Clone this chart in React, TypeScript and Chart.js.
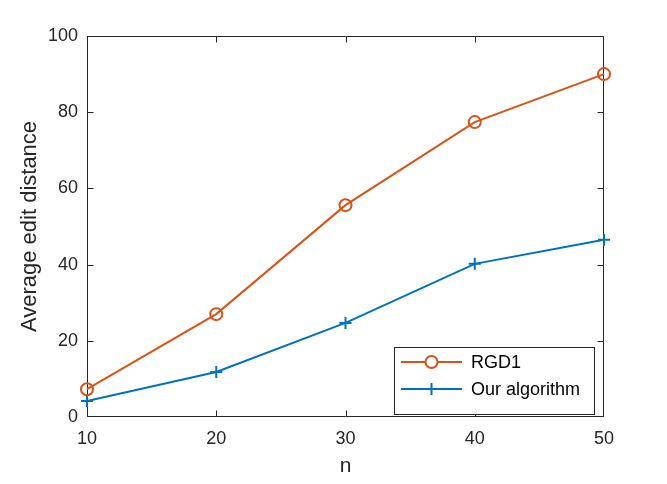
import React, { useEffect, useRef } from "react";
import { Chart, registerables } from "chart.js";

Chart.register(...registerables);

const nValues = [10, 20, 30, 40, 50];
const rgd1 = [7.3, 27.0, 55.6, 77.4, 90.0];
const ourAlgorithm = [4.2, 11.8, 24.7, 40.2, 46.5];
const seriesNames = ["RGD1", "Our algorithm"];
const xTicks = [10, 20, 30, 40, 50];
const yTicks = [0, 20, 40, 60, 80, 100];

const ORANGE = "#D95319";
const BLUE = "#0072BD";
const AXIS = "#262626";
const FONT = "'Liberation Sans', Arial, Helvetica, sans-serif";

// Box around the plot area with inward ticks on all four sides
const boxPlugin = {
  id: "matlabBox",
  beforeDatasetsDraw(chart: any) {
    const { ctx, chartArea: a, scales } = chart;
    const len = 6;
    const L = Math.round(a.left) + 0.5;
    const R = Math.round(a.right) - 0.5;
    const T = Math.round(a.top) + 0.5;
    const B = Math.round(a.bottom) - 0.5;
    ctx.save();
    ctx.strokeStyle = AXIS;
    ctx.lineWidth = 1;
    ctx.beginPath();
    ctx.rect(L, T, R - L, B - T);
    for (const v of xTicks) {
      const x = Math.min(R, Math.max(L, Math.round(scales.x.getPixelForValue(v)) + 0.5));
      ctx.moveTo(x, B);
      ctx.lineTo(x, B - len);
      ctx.moveTo(x, T);
      ctx.lineTo(x, T + len);
    }
    for (const v of yTicks) {
      const y = Math.min(B, Math.max(T, Math.round(scales.y.getPixelForValue(v)) + 0.5));
      ctx.moveTo(L, y);
      ctx.lineTo(L + len, y);
      ctx.moveTo(R, y);
      ctx.lineTo(R - len, y);
    }
    ctx.stroke();
    ctx.restore();
  },
  afterDraw(chart: any) {
    // Legend box in the lower right corner of the plot
    const { ctx, chartArea: a } = chart;
    const right = a.right - 9;
    const bottom = a.bottom - 2;
    const left = 394;
    const top = 347;
    ctx.save();
    ctx.fillStyle = "#ffffff";
    ctx.fillRect(left, top, right - left, bottom - top);
    ctx.strokeStyle = AXIS;
    ctx.lineWidth = 1;
    ctx.strokeRect(left + 0.5, top + 0.5, right - left - 1, bottom - top - 1);
    const rows = [
      { name: seriesNames[0], color: ORANGE, marker: "circle", y: top + 15 },
      { name: seriesNames[1], color: BLUE, marker: "cross", y: top + 42 },
    ];
    for (const r of rows) {
      const x0 = left + 7;
      const x1 = left + 68;
      const xm = (x0 + x1) / 2;
      ctx.strokeStyle = r.color;
      ctx.lineWidth = 2;
      ctx.beginPath();
      ctx.moveTo(x0, r.y);
      ctx.lineTo(x1, r.y);
      ctx.stroke();
      ctx.beginPath();
      if (r.marker === "circle") {
        ctx.fillStyle = "#ffffff";
        ctx.arc(xm, r.y, 6, 0, Math.PI * 2);
        ctx.fill();
      } else {
        ctx.moveTo(xm, r.y - 6);
        ctx.lineTo(xm, r.y + 6);
        ctx.moveTo(xm - 6, r.y);
        ctx.lineTo(xm + 6, r.y);
      }
      ctx.stroke();
      ctx.fillStyle = "#000000";
      ctx.font = `18px ${FONT}`;
      ctx.textBaseline = "middle";
      ctx.textAlign = "left";
      ctx.fillText(r.name, left + 77, r.y + 1);
    }
    ctx.restore();
  },
};

export default function App() {
  const ref = useRef<HTMLCanvasElement | null>(null);

  useEffect(() => {
    if (!ref.current) return;
    const chart = new Chart(ref.current, {
      type: "line",
      data: {
        datasets: [
          {
            label: seriesNames[0],
            data: nValues.map((n, i) => ({ x: n, y: rgd1[i] })),
            borderColor: ORANGE,
            backgroundColor: "rgba(0,0,0,0)",
            borderWidth: 2,
            pointStyle: "circle",
            pointRadius: 6,
            pointBorderWidth: 2,
            pointBorderColor: ORANGE,
            pointBackgroundColor: "rgba(0,0,0,0)",
            tension: 0,
            clip: false,
          },
          {
            label: seriesNames[1],
            data: nValues.map((n, i) => ({ x: n, y: ourAlgorithm[i] })),
            borderColor: BLUE,
            backgroundColor: "rgba(0,0,0,0)",
            borderWidth: 2,
            pointStyle: "cross",
            pointRadius: 6,
            pointBorderWidth: 2,
            pointBorderColor: BLUE,
            tension: 0,
            clip: false,
          },
        ],
      },
      options: {
        animation: false,
        responsive: false,
        maintainAspectRatio: false,
        layout: { padding: { top: 36, right: 63, left: 0, bottom: 0 } },
        plugins: {
          legend: { display: false },
          tooltip: { enabled: false },
        },
        scales: {
          x: {
            type: "linear",
            min: 10,
            max: 50,
            afterBuildTicks: (s: any) => {
              s.ticks = xTicks.map((v) => ({ value: v }));
            },
            afterFit: (s: any) => {
              s.height = 67;
            },
            grid: { display: false, drawTicks: false },
            border: { display: false },
            ticks: {
              color: AXIS,
              font: { family: FONT, size: 18 },
              padding: 11,
              maxRotation: 0,
            },
            title: {
              display: true,
              text: "n",
              color: AXIS,
              font: { family: FONT, size: 21 },
              padding: { top: 0, bottom: 5 },
            },
          },
          y: {
            type: "linear",
            min: 0,
            max: 100,
            afterBuildTicks: (s: any) => {
              s.ticks = yTicks.map((v) => ({ value: v }));
            },
            afterFit: (s: any) => {
              s.width = 87;
            },
            grid: { display: false, drawTicks: false },
            border: { display: false },
            ticks: {
              color: AXIS,
              font: { family: FONT, size: 18 },
              padding: 9,
            },
            title: {
              display: true,
              text: "Average edit distance",
              color: AXIS,
              font: { family: FONT, size: 22 },
              padding: { top: 17, bottom: 0 },
            },
          },
        },
      },
      plugins: [boxPlugin],
    });
    return () => chart.destroy();
  }, []);

  return (
    <div style={{ position: "absolute", left: 0, top: 0, width: 667, height: 484, background: "#ffffff" }}>
      <canvas ref={ref} width={667} height={484} style={{ display: "block" }} />
    </div>
  );
}
